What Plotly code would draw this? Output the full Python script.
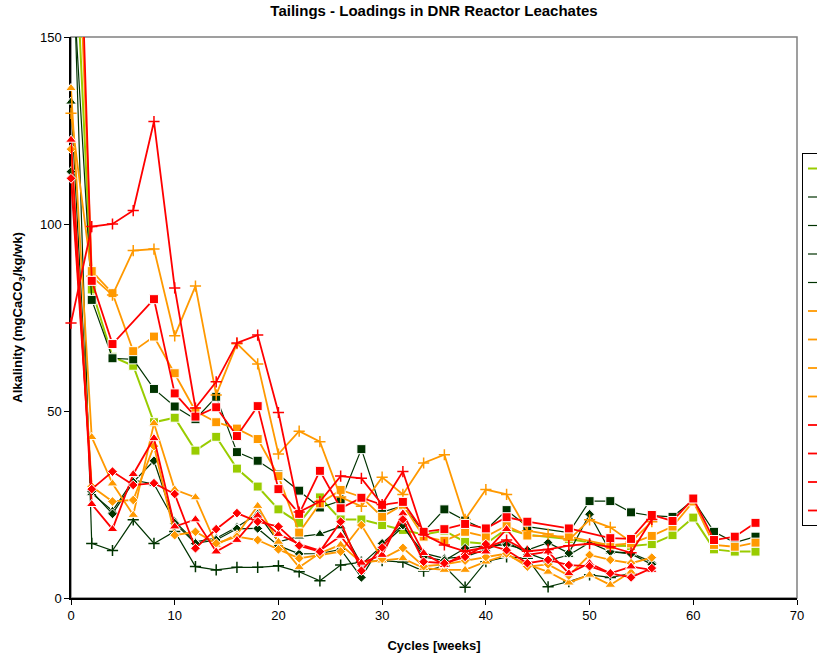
import plotly.graph_objects as go

# Sampling weeks (every two weeks, 0-66)
WEEKS = list(range(0, 68, 2))

# Alkalinity loadings (mgCaCO3/kg/wk); None = not sampled
YG_SQ = [200, 82.5, 64.5, 62.1, 47, 48.2, 39.4, 43.1, 34.6, 29.8, 23.7, 20.1, 26.9, 21, 21, 19.5,
         18.2, 17, 18, 15, 14.5, 18.5, 16.9, None, 15.8, None, 14, 13.9, 14.4, 16.8, 21.5, 13, 12.4, 12.4]
DG_SQ = [175, 79.7, 64.1, 63.8, 55.9, 51.2, 47.8, 53.8, 39, 36.7, 33, 28.7, 24.2, 26, 39.8, 23,
         24.6, 17.7, 23.7, 20.7, 18.2, 23.5, 19.1, None, 17.5, 25.9, 25.9, 22.9, 22, 21.7, 26.2, 17.7, 14.8, 16.4]
DG_TRI = [132.7, 28, 23.3, 31.5, 30.5, 20.5, 15, 16, 19, 22.5, 15, 16.4, 17.1, 19.1, 9, 14,
          19, 12, 10.6, 11, 13, 15, 12, 10, 11.5, 14.8, 12.4, 12, 9.7]
DG_DIA = [114, 28.5, 22.5, 31, 36.7, 20, 14.6, 15.5, 18.5, 18.6, 14, 11.8, 11.9, 13, 5.5, 14.6,
          19.5, 11, 10, 13.3, 14, 14.2, 12.8, 14.8, 12, 22.4, 12.4, 11.8, 9]
DG_PLUS = [190, 14.6, 12.7, 20.9, 14.6, 17.8, 8.4, 7.5, 8.2, 8.2, 8.6, 7, 4.6, 8.8, 9.6, 10,
           9.6, 7.2, 8.5, 2.9, 9.7, 11, 10.6, 3, 4.4, 6.2, 5.5, 6.5, None]
OR_SQ = [230, 87.4, 81.5, 66, 69.9, 60.1, 50, 47, 45.3, 42.5, 32.6, 17.5, 25.3, 28.9, 27, 21.7,
         24.9, 16.4, 15.3, 17.7, 16.4, 19.3, 16.7, None, 16.4, None, 14.1, 14.6, 16.6, 19.1, 25.8, 14.2, 13.7, 14.8]
OR_TRI = [136.3, 43, 30.6, 22.2, 46.7, 29, 26.9, 14.2, 17, 24.6, 15, 8.2, 12, 14.2, 9.5, 10,
          10.6, 8, 7.5, 7.5, 9.7, 11.5, 9, 7, 4.1, 6.2, 3.5, 7, None]
OR_DIA = [120, 29.8, 25.8, 26.2, 40.6, 16.8, 17.7, 14.6, 16.4, 15.5, 13, 10.6, 11.5, 12.4, 19.5, 10.5,
          13.4, 8.5, 9, 10, 11, 11.9, 8.4, 9, 6, 11.5, 10.2, 9.3, 10.8]
OR_PLUS = [129.6, 86, 81, 92.9, 93.3, 70.1, 83.4, 54.3, 68, 62.6, 38.5, 44.6, 41.8, 27, 24.5, 32.3,
           27.7, 36.1, 38.3, 21, 29, 27.7, 18, 17.1, 15.5, 20.9, 18.9, 15, 20.4]
RD_SQ = [260, 84.8, 67.9, None, 79.9, 54.7, 48.5, 51, 43.3, 51.3, 29.1, 22.5, 34, 24, 26.8, 24.9,
         25.7, 17.7, 18.4, 19.8, 18.6, 21.6, 20.4, None, 18.6, None, 16, 15.8, 22.2, 20.6, 26.6, 15.5, 16.4, 20.1]
RD_TRI = [122.5, 25.1, 18.4, 33.1, 42.7, 19.1, 21, 12.4, 15.5, 22, 17.1, 14.4, 12.7, 16.6, 9.4, 11.5,
          22.6, 12, 8.8, 12, 12.4, 18.4, 11.5, 12.4, 6.6, 9.3, 6.6, 8.4, 7.5]
RD_DIA = [112.2, 29.1, 33.8, 30.2, 30.7, 27.8, 13.3, 18.4, 22.7, 20.4, 19.1, 14, 12.4, 20.4, 7.3, 13.5,
          21, 9.7, 9.3, 11, 14.4, 12.8, 9.3, 10.2, 8.8, 8.5, 6.6, 5.5, 8]
RD_PLUS = [73.5, 99.3, 100, 103.6, 127.4, 82.9, 50.8, 57.8, 68.2, 70.3, 49.6, 23, 25.8, 32.6, 32, 25,
           33.8, 17, 14.2, 12.5, 13.5, 15.5, 12.5, 13, 14, 14.5, 13.7, 12.1, 21]

Y_MAX = 150
YG, DG, OR, RD = "#99CC00", "#003300", "#FF9900", "#FF0000"

series = [
    ("Reactor 1", YG_SQ, YG, "square", 2.0),
    ("Reactor 2", DG_SQ, DG, "square", 1.2),
    ("Reactor 3", DG_TRI, DG, "triangle-up", 1.2),
    ("Reactor 4", DG_DIA, DG, "diamond", 1.2),
    ("Reactor 5", DG_PLUS, DG, "cross-thin", 1.2),
    ("Reactor 6", OR_SQ, OR, "square", 1.8),
    ("Reactor 7", OR_TRI, OR, "triangle-up", 1.8),
    ("Reactor 8", OR_DIA, OR, "diamond", 1.8),
    ("Reactor 9", OR_PLUS, OR, "cross-thin", 1.8),
    ("Reactor 10", RD_SQ, RD, "square", 1.8),
    ("Reactor 11", RD_TRI, RD, "triangle-up", 1.8),
    ("Reactor 12", RD_DIA, RD, "diamond", 1.8),
    ("Reactor 13", RD_PLUS, RD, "cross-thin", 1.8),
]

SIZES = {"square": 9, "triangle-up": 9.5, "diamond": 7.5, "cross-thin": 8}

fig = go.Figure()
for name, vals, col, sym, lw in series:
    # markers are not clipped at the axes (so week-0 points show in full),
    # but points beyond the axis maximum get no marker
    sizes = [0 if (v is not None and v > Y_MAX) else SIZES[sym] for v in vals]
    marker = dict(symbol=sym, size=sizes, color=col, opacity=1)
    if sym == "cross-thin":
        marker["line"] = dict(color=col, width=1.5)
    fig.add_trace(go.Scatter(
        x=WEEKS[:len(vals)], y=vals, name=name, legendgroup=name, mode="lines+markers",
        line=dict(color=col, width=lw), marker=marker, connectgaps=True,
        cliponaxis=False,
    ))

FONT = "Liberation Sans, Arial, sans-serif"

fig.update_layout(
    width=817, height=668,
    margin=dict(l=71, r=20, t=37, b=70, autoexpand=False),
    paper_bgcolor="white", plot_bgcolor="white",
    font=dict(family=FONT, size=13, color="black"),
    title=dict(text="<b>Tailings - Loadings in DNR Reactor Leachates</b>",
               x=0.5, xref="paper", xanchor="center",
               y=1 - 11 / 668, yref="container", yanchor="middle",
               font=dict(size=15, family=FONT)),
    xaxis=dict(range=[0, 70], dtick=10, tick0=0, showgrid=False, zeroline=False,
               showline=True, linecolor="black", linewidth=1.5, layer="below traces",
               ticks="outside", ticklen=5, tickcolor="black",
               title=dict(text="<b>Cycles [weeks]</b>", standoff=19, font=dict(size=13))),
    yaxis=dict(range=[0, Y_MAX], dtick=50, tick0=0, showgrid=False, zeroline=False,
               showline=True, linecolor="black", linewidth=1.5, layer="below traces",
               ticks="outside", ticklen=5, tickcolor="black",
               title=dict(text="<b>Alkalinity (mgCaCO<sub>3</sub>/kg/wk)</b>", standoff=14,
                          font=dict(size=13))),
    showlegend=True,
    legend=dict(x=(802 - 71) / 726, xanchor="left", y=(598 - 153) / 561, yanchor="top",
                bordercolor="black", borderwidth=1, bgcolor="white",
                font=dict(size=12, family=FONT), tracegroupgap=9.5, itemclick=False),
    shapes=[dict(type="rect", xref="paper", yref="paper", x0=0, x1=1, y0=0, y1=1,
                 line=dict(color="#808080", width=1.5), layer="below")],
)

fig.write_html("out.html")
